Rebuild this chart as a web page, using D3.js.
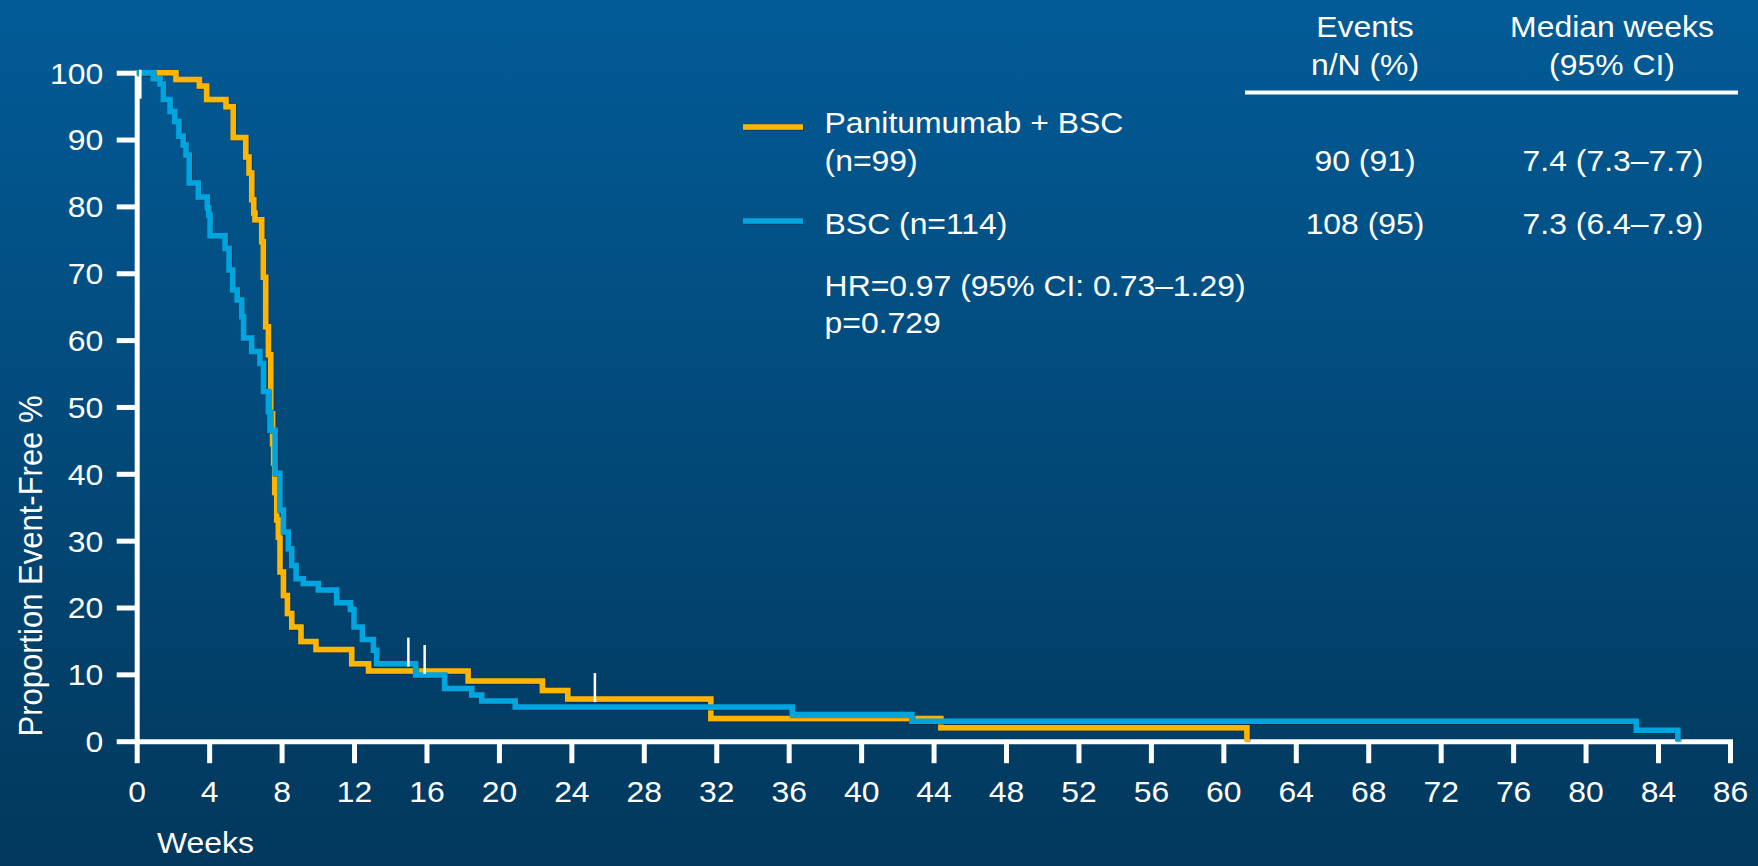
<!DOCTYPE html>
<html><head><meta charset="utf-8">
<script src="https://cdn.jsdelivr.net/npm/d3@7"></script>
<style>
html,body{margin:0;padding:0;overflow:hidden;background:#004a7c}
svg{display:block}
text{font-family:"Liberation Sans",Arial,sans-serif;fill:#fff}
</style></head><body>
<svg id="chart" width="1758" height="866"></svg>
<script>
// ---------- data ----------
const weekTicks = [0,4,8,12,16,20,24,28,32,36,40,44,48,52,56,60,64,68,72,76,80,84,86];
const pctTicks = [0,10,20,30,40,50,60,70,80,90,100];

const panTimes  = [0,2.17,3.46,3.86,4.93,5.33,6.02,6.2,6.35,6.46,6.53,6.9,6.99,7.12,7.27,7.4,7.5,7.56,7.62,7.73,7.82,7.91,8.1,8.32,8.56,9.07,9.9,11.87,12.8,18.3,22.4,23.8,31.7,44.4,61.3];
const panValues = [100,99,98,96,94.9,90.3,87.4,85.0,81.0,79.0,78.0,74.7,69.4,62.0,57.8,49.0,44.5,41.6,37.2,33.1,30.5,25.3,21.8,19.1,17.1,14.9,13.7,11.6,10.5,9.0,7.6,6.3,3.4,2.0,0];
const panCensor = [15.9,25.3];

const bscTimes  = [0,0.92,1.29,1.47,1.84,2.1,2.33,2.57,2.72,2.9,3.4,3.9,3.98,4.05,4.88,5.1,5.3,5.55,5.8,5.9,6.35,6.8,7.0,7.27,7.36,7.64,7.9,8.1,8.37,8.56,8.8,9.2,10.03,11.04,11.8,12.0,12.46,13.07,13.25,15.4,17.0,18.5,19.05,20.9,36.2,42.8,82.8,84.55];
const bscValues = [100,99.1,98.3,96.0,94.2,92.7,90.5,89.2,87.7,83.5,81.4,79.8,78.7,75.6,73.7,70.5,67.5,66.0,63.5,60.3,58.3,56.5,52.3,49.3,46.5,40.1,34.6,31.3,28.8,26.3,24.3,23.6,22.6,20.7,19.7,17.1,15.2,13.6,11.6,9.9,7.9,6.9,6.0,5.1,4.0,3.0,1.65,0];
const bscCensor = [0.2,15.0];

const seriesNames = ["Panitumumab + BSC","BSC (n=114)"];
const seriesSub = ["(n=99)",""];
const eventsCol = ["90 (91)","108 (95)"];
const medianCol = ["7.4 (7.3–7.7)","7.3 (6.4–7.9)"];
const headEvents = ["Events","n/N (%)"];
const headMedian = ["Median weeks","(95% CI)"];
const statLines = ["HR=0.97 (95% CI: 0.73–1.29)","p=0.729"];
const xTitle = "Weeks";
const yTitle = "Proportion Event-Free %";

// ---------- styles ----------
const ORANGE = "#FFB400", BLUE = "#00A5DF";
const SX = 1.1; // horizontal text stretch

const svg = d3.select("#chart");
const defs = svg.append("defs");
const g = defs.append("linearGradient").attr("id","bg").attr("x1",0).attr("y1",0).attr("x2",0).attr("y2",1);
g.append("stop").attr("offset","0%").attr("stop-color","#025B97");
g.append("stop").attr("offset","100%").attr("stop-color","#02385C");
const f = defs.append("filter").attr("id","sh").attr("filterUnits","userSpaceOnUse")
  .attr("x",0).attr("y",0).attr("width",1758).attr("height",866);
f.append("feDropShadow").attr("dx",0.8).attr("dy",0.8).attr("stdDeviation",0.6).attr("flood-color","#001a33").attr("flood-opacity",0.55);

svg.append("rect").attr("width",1758).attr("height",866).attr("fill","url(#bg)");

const x = d3.scaleLinear().domain([0,84,86]).range([136.7,1658,1730]);
const y = d3.scaleLinear().domain([0,100]).range([741.2,72.7]);

// ---------- axes ----------
const xAxis = svg.append("g").attr("transform",`translate(0,${y(0)})`)
  .call(d3.axisBottom(x).tickValues(weekTicks).tickSize(22).tickSizeOuter(0).tickFormat(d3.format("d")));
const yAxis = svg.append("g").attr("transform",`translate(${x(0)},0)`)
  .call(d3.axisLeft(y).tickValues(pctTicks).tickSize(20).tickSizeOuter(0).tickFormat(d3.format("d")));

[xAxis,yAxis].forEach(a=>{
  a.select(".domain").attr("stroke","#fff").attr("stroke-width",5).attr("stroke-linecap","square");
  a.selectAll(".tick line").attr("stroke","#fff").attr("stroke-width",5);
  a.selectAll("text").attr("fill","#fff").style("font-size","29px")
   .style("font-family",'"Liberation Sans",Arial,sans-serif');
});
xAxis.selectAll(".tick text").attr("y",60.5).attr("dy",0).attr("transform",`scale(${SX},1)`);
yAxis.selectAll(".tick text").attr("x",-33.5/SX).attr("dy","0.36em").attr("transform",`scale(${SX},1)`);

// axis titles
svg.append("text").attr("transform",`translate(157,853) scale(${SX},1)`)
  .style("font-size","29px").text(xTitle);
svg.append("text").attr("transform",`translate(41.7,566) scale(${SX},1) rotate(-90)`)
  .attr("text-anchor","middle").style("font-size","31px").text(yTitle);

// ---------- curves ----------
const line = d3.line().x(d=>x(d[0])).y(d=>y(d[1])).curve(d3.curveStepAfter);
const series = [
  {t:panTimes, v:panValues, c:ORANGE, cens:panCensor},
  {t:bscTimes, v:bscValues, c:BLUE, cens:bscCensor}
];
svg.append("g").selectAll("path").data(series).join("path")
  .attr("d",s=>line(d3.zip(s.t,s.v)))
  .attr("fill","none").attr("stroke",s=>s.c).attr("stroke-width",5.5)
  .attr("stroke-linejoin","miter").attr("filter","url(#sh)");

// censor marks
const marks = [];
series.forEach(s=>{
  s.cens.forEach(t=>{
    const i = d3.bisectRight(s.t,t)-1;
    const v = s.v[Math.max(0,i)];
    let y2 = y(v)-26, y1 = y(v)+3;
    if (y2 < y(100)-3){ y2 = y(100)-3; y1 = y2+29; }
    marks.push({x:x(t),y1,y2});
  });
});
svg.append("g").selectAll("line").data(marks).join("line")
  .attr("x1",d=>d.x).attr("x2",d=>d.x).attr("y1",d=>d.y1).attr("y2",d=>d.y2)
  .attr("stroke","#fff").attr("stroke-width",2.5);

// ---------- legend / table ----------
function txt(str,xx,yy,anchor){
  return svg.append("text").attr("transform",`translate(${xx},${yy}) scale(${SX},1)`)
    .attr("text-anchor",anchor||"start").style("font-size","29px").text(str);
}
txt(headEvents[0],1365,37,"middle");
txt(headEvents[1],1365,75,"middle");
txt(headMedian[0],1612,37,"middle");
txt(headMedian[1],1612,75,"middle");
svg.append("line").attr("x1",1245).attr("x2",1738).attr("y1",92.5).attr("y2",92.5)
  .attr("stroke","#fff").attr("stroke-width",4);

const legY = [127,221];
const nameBase = [133,234];
const rowBase = [170.7,234];
[0,1].forEach(i=>{
  svg.append("line").attr("x1",743).attr("x2",803).attr("y1",legY[i]).attr("y2",legY[i])
    .attr("stroke",series[i].c).attr("stroke-width",5.5).attr("filter","url(#sh)");
  txt(seriesNames[i],824.6,nameBase[i]);
  if (seriesSub[i]) txt(seriesSub[i],824.6,rowBase[i]);
  txt(eventsCol[i],1365,rowBase[i],"middle");
  txt(medianCol[i],1613,rowBase[i],"middle");
});
txt(statLines[0],824.6,296);
txt(statLines[1],824.6,333.3);
</script>
</body></html>
